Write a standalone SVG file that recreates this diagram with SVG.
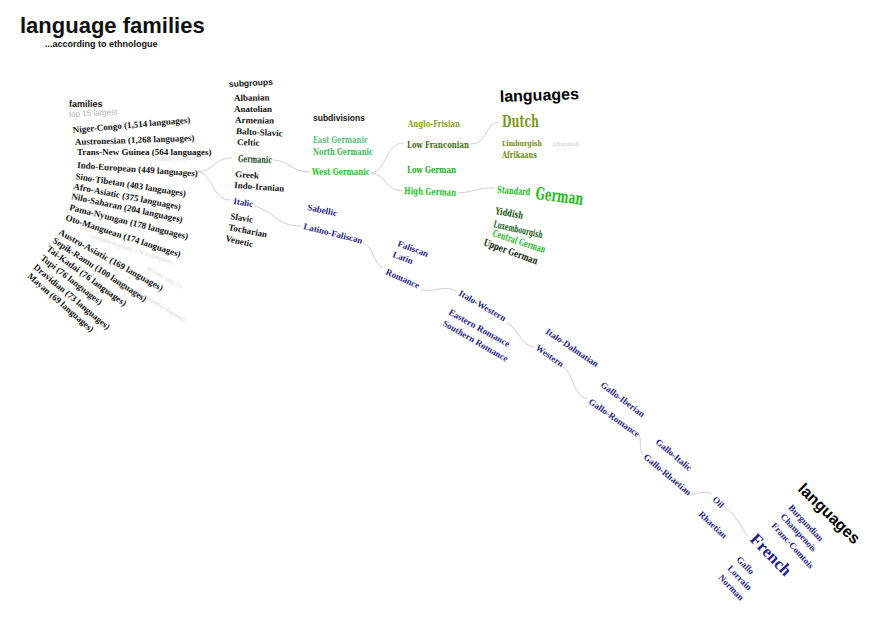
<svg xmlns="http://www.w3.org/2000/svg" width="882" height="624" viewBox="0 0 882 624">
<style>
.sans{font-family:"Liberation Sans",Arial,sans-serif;font-weight:bold;fill:#111}
.fam{font-family:"Liberation Serif","Times New Roman",serif;font-weight:bold;font-size:9px;fill:#111}
.note{font-family:"Liberation Serif","Times New Roman",serif;font-size:6px;fill:#d4d4d4}
.bl{font-family:"DejaVu Serif Condensed","DejaVu Serif",serif;font-weight:bold;font-size:9.5px}
.it{font-family:"Liberation Serif","Times New Roman",serif;font-weight:bold;font-size:9px;fill:#1e1e8a}
.big{font-size:17px}
.sm{font-size:8px}
.conn path{fill:none;stroke:#cfcfcf;stroke-width:1}
</style>
<rect width="882" height="624" fill="#fff"/>
<g id="title">
<text class="sans" x="20" y="33" style="font-size:22px">language families</text>
<text class="sans" x="45" y="47" style="font-size:9px">...according to ethnologue</text>
</g>
<g id="connectors" class="conn">
<path d="M197,172 C215,172 212,158 232,158"/>
<path d="M197,172 C212,172 212,200 230,200"/>
<path d="M273,160 C290,160 290,172 310,172"/>
<path d="M254,206 C276,212 276,226 301,226"/>
<path d="M371,173 C388,170 385,143 404,143"/>
<path d="M371,173 C388,176 385,190 402,191"/>
<path d="M471,144 C488,144 485,123 499,122"/>
<path d="M458,193 C475,192 480,187 495,188"/>
<path d="M363,243 C375,248 372,262 383,268"/>
<path d="M421,290 C435,292 445,285 456,291"/>
<path d="M507,323 C520,330 520,345 534,347"/>
<path d="M563,367 C575,375 572,395 587,399"/>
<path d="M639,435 C642,442 638,450 644,455"/>
<path d="M691,495 C698,494 702,490 711,494"/>
<path d="M721,505 C735,512 740,525 747,536"/>
</g>
<g id="families">
<text class="sans" x="69" y="107" style="font-size:9px">families</text>
<text x="69" y="117" transform="rotate(-3 69 117)" font-family="Liberation Sans,Arial,sans-serif" font-size="8" fill="#b0b0b0">top 15 largest</text>
<text class="fam" transform="translate(73,133) rotate(-5)">Niger-Congo (1,514 languages)</text>
<text class="fam" transform="translate(75,145) rotate(-2)">Austronesian (1,268 languages)</text>
<text class="fam" transform="translate(77,155) rotate(0)">Trans-New Guinea (564 languages)</text>
<text class="note" transform="translate(155,161) rotate(-2)">(validity disputed)</text>
<text class="fam" transform="translate(77,168) rotate(4)">Indo-European (449 languages)</text>
<text class="fam" transform="translate(75,179) rotate(9)">Sino-Tibetan (403 languages)</text>
<text class="fam" transform="translate(73,189) rotate(11)">Afro-Asiatic (375 languages)</text>
<text class="fam" transform="translate(71,199) rotate(12)">Nilo-Saharan (204 languages)</text>
<text class="fam" transform="translate(69,210) rotate(14)">Pama-Nyungan (178 languages)</text>
<text class="fam" transform="translate(65,220) rotate(18)">Oto-Manguean (174 languages)</text>
<text class="note" transform="translate(91,238) rotate(18)">(validity disputed; 176 if complete)</text>
<text class="fam" transform="translate(58,234) rotate(29)">Austro-Asiatic (169 languages)</text>
<text class="note" transform="translate(146,269) rotate(30)">includes only 33</text>
<text class="fam" transform="translate(52,242) rotate(33)">Sepik-Ramu (100 languages)</text>
<text class="note" transform="translate(146,299) rotate(31)">(validity disputed)</text>
<text class="fam" transform="translate(46,250) rotate(36)">Tai-Kadai (76 languages)</text>
<text class="fam" transform="translate(40,259) rotate(38)">Tupi (76 languages)</text>
<text class="fam" transform="translate(33,268) rotate(40)">Dravidian (73 languages)</text>
<text class="fam" transform="translate(27,277) rotate(41)">Mayan (69 languages)</text>
</g>
<g id="subgroups">
<text class="sans" transform="translate(229,87) rotate(-3)" style="font-size:8.5px">subgroups</text>
<text class="fam" transform="translate(234,101) rotate(-1)">Albanian</text>
<text class="fam" transform="translate(234,112) rotate(0)">Anatolian</text>
<text class="fam" transform="translate(235,123) rotate(1)">Armenian</text>
<text class="fam" transform="translate(236,134) rotate(3)">Balto-Slavic</text>
<text class="fam" transform="translate(237,145) rotate(2)">Celtic</text>
<text class="bl" transform="translate(238,162) rotate(2)" fill="#1a4a1a" textLength="34" lengthAdjust="spacingAndGlyphs">Germanic</text>
<text class="fam" transform="translate(235,177) rotate(4)">Greek</text>
<text class="fam" transform="translate(234,188) rotate(4)">Indo-Iranian</text>
<text class="it" transform="translate(233,204) rotate(9)">Italic</text>
<text class="fam" transform="translate(230,219) rotate(9)">Slavic</text>
<text class="fam" transform="translate(228,230) rotate(11)">Tocharian</text>
<text class="fam" transform="translate(225,241) rotate(13)">Venetic</text>
</g>
<g id="subdivisions">
<text class="sans" x="313" y="121" style="font-size:8.5px">subdivisions</text>
<text class="bl" x="313" y="143" fill="#5cc07a" textLength="55" lengthAdjust="spacingAndGlyphs">East Germanic</text>
<text class="bl" x="313" y="155" fill="#38b850" textLength="60" lengthAdjust="spacingAndGlyphs">North Germanic</text>
<text class="bl" x="312" y="175" fill="#1fc21f" textLength="58" lengthAdjust="spacingAndGlyphs">West Germanic</text>
</g>
<g id="germanic-branches">
<text class="bl" x="408" y="127" fill="#86a21e" textLength="52" lengthAdjust="spacingAndGlyphs">Anglo-Frisian</text>
<text class="bl" x="407" y="148" fill="#3e6e10" textLength="62" lengthAdjust="spacingAndGlyphs">Low Franconian</text>
<text class="bl" x="407" y="173" fill="#22b022" textLength="49" lengthAdjust="spacingAndGlyphs">Low German</text>
<text class="bl" transform="translate(404,194) rotate(2)" fill="#22c422" textLength="52" lengthAdjust="spacingAndGlyphs">High German</text>
</g>
<g id="languages-germanic">
<text class="sans" transform="translate(500,102) rotate(-2)" style="font-size:16px;fill:#000">languages</text>
<text class="bl big" x="502" y="127" fill="#7a9a1a" textLength="37" lengthAdjust="spacingAndGlyphs">Dutch</text>
<text class="bl sm" x="502" y="146" fill="#6e8e14" textLength="40" lengthAdjust="spacingAndGlyphs">Limburgish</text>
<text x="553" y="146" font-family="Liberation Serif,serif" font-size="6.5" fill="#c8c8c8">(disputed)</text>
<text class="bl" x="502" y="158" fill="#6e8e14" textLength="35" lengthAdjust="spacingAndGlyphs">Afrikaans</text>
<text class="bl" transform="translate(497,193) rotate(4)" fill="#22bb22" textLength="33" lengthAdjust="spacingAndGlyphs">Standard</text>
<text class="bl big" transform="translate(535,199) rotate(7)" fill="#22bb22" textLength="48" lengthAdjust="spacingAndGlyphs">German</text>
<text class="bl" transform="translate(495,214) rotate(10)" fill="#0f5a0f" textLength="28" lengthAdjust="spacingAndGlyphs">Yiddish</text>
<text class="bl" transform="translate(493,227) rotate(13)" fill="#17601a" textLength="50" lengthAdjust="spacingAndGlyphs">Luxembourgish</text>
<text class="bl" transform="translate(492,236) rotate(18)" fill="#2bb52b" textLength="55" lengthAdjust="spacingAndGlyphs">Central German</text>
<text class="bl" transform="translate(483,245) rotate(20)" fill="#0a250a" textLength="57" lengthAdjust="spacingAndGlyphs">Upper German</text>
</g>
<g id="italic-branches">
<text class="it" transform="translate(307,210) rotate(12)">Sabellic</text>
<text class="it" transform="translate(303,229) rotate(14)">Latino-Faliscan</text>
<text class="it" transform="translate(397,246) rotate(20)">Faliscan</text>
<text class="it" transform="translate(392,257) rotate(20)">Latin</text>
<text class="it" transform="translate(385,274) rotate(24)">Romance</text>
<text class="it" transform="translate(458,295) rotate(30)">Italo-Western</text>
<text class="it" transform="translate(448,314) rotate(29)">Eastern Romance</text>
<text class="it" transform="translate(442,325) rotate(30)">Southern Romance</text>
<text class="it" transform="translate(545,333) rotate(34)">Italo-Dalmatian</text>
<text class="it" transform="translate(535,349) rotate(35)">Western</text>
<text class="it" transform="translate(600,386) rotate(37)">Gallo-Iberian</text>
<text class="it" transform="translate(588,403) rotate(35)">Gallo-Romance</text>
<text class="it" transform="translate(655,443) rotate(40)">Gallo-Italic</text>
<text class="it" transform="translate(643,458) rotate(40)">Gallo-Rhaetian</text>
<text class="it" transform="translate(712,500) rotate(45)">Oil</text>
<text class="it" transform="translate(698,515) rotate(43)">Rhaetian</text>
</g>
<g id="languages-romance">
<text class="it big" transform="translate(749,540) rotate(46)">French</text>
<text class="it" transform="translate(736,560) rotate(46)">Gallo</text>
<text class="it" transform="translate(727,569) rotate(46)">Lorrain</text>
<text class="it" transform="translate(718,578) rotate(46)">Norman</text>
<text class="it" transform="translate(788,508) rotate(47)">Burgundian</text>
<text class="it" transform="translate(780,517) rotate(47)">Champenois</text>
<text class="it" transform="translate(771,526) rotate(48)">Franc-Comtois</text>
<text class="sans" transform="translate(797,490) rotate(44)" style="font-size:16px;fill:#000">languages</text>
</g>
</svg>
